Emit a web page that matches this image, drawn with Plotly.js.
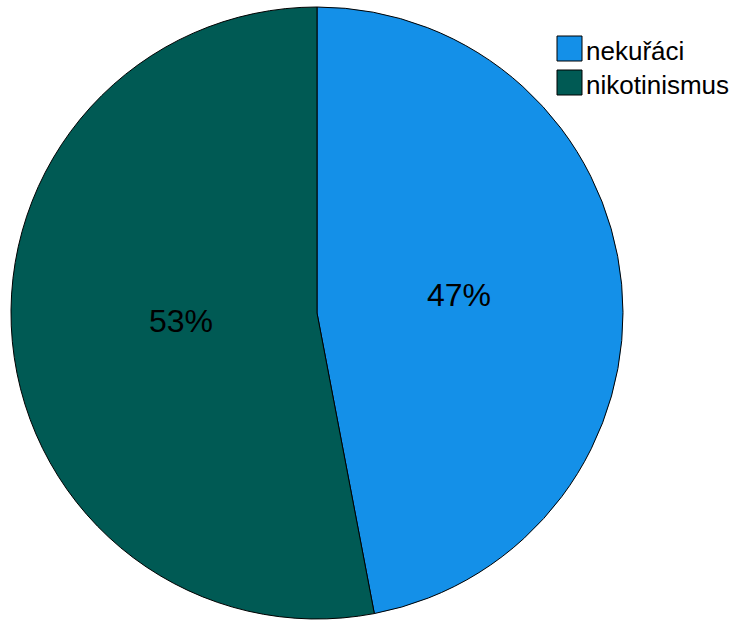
<!DOCTYPE html>
<html>
<head>
<meta charset="utf-8">
<script src="https://cdn.plot.ly/plotly-3.0.1.min.js"></script>
<style>html,body{margin:0;padding:0;background:#fff;}#chart{width:730px;height:621px;}</style>
</head>
<body>
<div id="chart"></div>
<script>
const categories = ["nekuřáci", "nikotinismus"];
const values = [47, 53];
const colors = ["#1490E8", "#005A54"];

const W = 730, H = 621;
const cx = 317, cy = 313, r = 306;
const px = x => x / W;
const py = y => 1 - y / H;
const FONT = "Liberation Sans, Arial, sans-serif";

const shapes = [];
const annotations = [];
categories.forEach((c, i) => {
  const top = 36 + i * 34;
  shapes.push({
    type: "rect", xref: "paper", yref: "paper",
    x0: px(557), x1: px(582), y0: py(top + 25), y1: py(top),
    fillcolor: colors[i], line: {color: "#000", width: 1}
  });
  annotations.push({
    xref: "paper", yref: "paper", x: px(584), y: py(top + 15),
    xanchor: "left", yanchor: "middle", showarrow: false,
    text: c, font: {family: FONT, size: 26, color: "#000"}
  });
});

// percent labels placed on each slice's bisector
const total = values.reduce((a, b) => a + b, 0);
let cum = 0;
values.forEach((v, i) => {
  const mid = (cum + v / 2) / total; // fraction clockwise from 12 o'clock
  cum += v;
  const ang = mid * 2 * Math.PI;
  const rr = 0.455 * r;
  const x = cx + rr * Math.sin(ang) + 3;
  const y = cy - rr * Math.cos(ang) - 5;
  annotations.push({
    xref: "paper", yref: "paper", x: px(x), y: py(y),
    xanchor: "center", yanchor: "middle", showarrow: false,
    text: Math.round(v / total * 100) + "%",
    font: {family: FONT, size: 32, color: "#000"}
  });
});

const data = [{
  type: "pie",
  labels: categories,
  values: values,
  sort: false,
  direction: "clockwise",
  rotation: 0,
  marker: {colors: colors, line: {color: "#000", width: 1}},
  textinfo: "none",
  hoverinfo: "none",
  domain: {x: [px(cx - r), px(cx + r)], y: [py(cy + r), py(cy - r)]},
  showlegend: false
}];

const layout = {
  width: W, height: H,
  margin: {l: 0, r: 0, t: 0, b: 0},
  paper_bgcolor: "#fff",
  showlegend: false,
  shapes: shapes,
  annotations: annotations
};

Plotly.newPlot("chart", data, layout, {staticPlot: true});
</script>
</body>
</html>
